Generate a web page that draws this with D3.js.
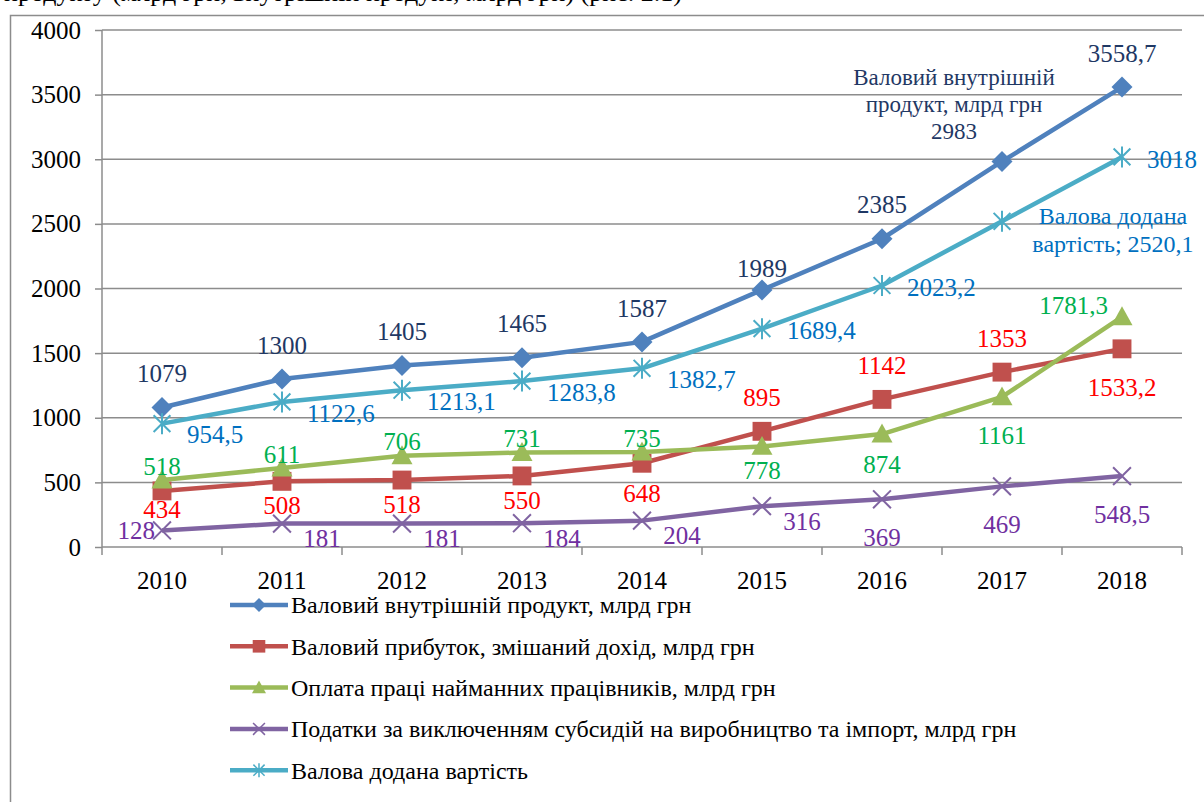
<!DOCTYPE html>
<html>
<head>
<meta charset="utf-8">
<script src="https://cdn.jsdelivr.net/npm/d3@7"></script>
<style>
  body { margin: 0; background: #fff; }
  svg, svg text { font-family: 'Liberation Serif', 'DejaVu Serif', serif; }
</style>
</head>
<body>
<div id="chart"></div>
<script>
// data (млрд грн)
const years = ['2010', '2011', '2012', '2013', '2014', '2015', '2016', '2017', '2018'];
const gdp = [1079, 1300, 1405, 1465, 1587, 1989, 2385, 2983, 3558.7];
const profit = [434, 508, 518, 550, 648, 895, 1142, 1353, 1533.2];
const wages = [518, 611, 706, 731, 735, 778, 874, 1161, 1781.3];
const taxes = [128, 181, 181, 184, 204, 316, 369, 469, 548.5];
const gva = [954.5, 1122.6, 1213.1, 1283.8, 1382.7, 1689.4, 2023.2, 2520.1, 3018];
const yTicks = [0, 500, 1000, 1500, 2000, 2500, 3000, 3500, 4000];
const seriesNames = [
  'Валовий внутрішній продукт, млрд грн',
  'Валовий прибуток, змішаний дохід, млрд грн',
  'Оплата праці найманних працівників, млрд грн',
  'Податки за виключенням субсидій на виробництво та імпорт, млрд грн',
  'Валова додана вартість'
];

const FONT = 'Liberation Serif, DejaVu Serif, serif';

// label placement per point (style only)
const series = [
  { values: gdp, line: '#4F81BD', text: '#1F3864', marker: 'diamond',
    pos: ['a', 'a', 'a', 'a', 'a', 'a2', 'a', 'gdpName', 'a'] },
  { values: profit, line: '#C0504D', text: '#FF0000', marker: 'square',
    pos: ['b1', 'bs', 'bs', 'bs', 'bm', 'a', 'a', 'a', 'b'] },
  { values: wages, line: '#9BBB59', text: '#00B050', marker: 'triangle',
    pos: ['c', 'c', 'c', 'c', 'c', 'bs', 'bm', 'b', 'la'] },
  { values: taxes, line: '#8064A2', text: '#7030A0', marker: 'x',
    pos: ['l', 'br', 'br', 'br', 'br', 'br', 'b', 'b', 'b'] },
  { values: gva, line: '#4BACC6', text: '#0070C0', marker: 'star',
    pos: ['rb', 'rb', 'rb', 'rb', 'rb', 'r', 'r', 'gvaName', 'r'] }
];

const place = {
  a: { dx: 0, dy: -34, anchor: 'middle' },
  a2: { dx: 0, dy: -22, anchor: 'middle' },
  b: { dx: 0, dy: 38, anchor: 'middle' },
  bm: { dx: 0, dy: 30, anchor: 'middle' },
  bs: { dx: 0, dy: 24, anchor: 'middle' },
  b1: { dx: 0, dy: 18, anchor: 'middle' },
  c: { dx: 0, dy: -14, anchor: 'middle' },
  r: { dx: 25, dy: 2, anchor: 'start' },
  rb: { dx: 25, dy: 11, anchor: 'start' },
  br: { dx: 40, dy: 15, anchor: 'middle' },
  l: { dx: -7, dy: 0, anchor: 'end' },
  la: { dx: -14, dy: -12, anchor: 'end' }
};

const width = 1204, height = 802;
const margin = { top: 30, left: 102, right: 22, bottom: 255 };

const svg = d3.select('#chart').append('svg')
  .attr('width', width)
  .attr('height', height)
  .attr('font-family', FONT);

// clipped caption line above the chart frame
svg.append('text')
  .attr('x', 4).attr('y', 1)
  .attr('font-size', 26)
  .text('продукту (млрд грн, внутрішній продукт, млрд грн) (рис. 2.1)');

// chart frame
svg.append('rect')
  .attr('x', 10.5).attr('y', 15.5)
  .attr('width', 1300).attr('height', 900)
  .attr('fill', '#fff')
  .attr('stroke', '#8c8c8c')
  .attr('stroke-width', 1.5);

const x = d3.scaleBand()
  .domain(years)
  .range([margin.left, width - margin.right])
  .paddingInner(0).paddingOuter(0);

const y = d3.scaleLinear()
  .domain([0, 4000])
  .range([height - margin.bottom, margin.top]);

const cx = d => x(d) + x.bandwidth() / 2;
const fmt = v => String(v).replace('.', ',');

// gridlines
svg.append('g')
  .selectAll('line')
  .data(yTicks.slice(1))
  .join('line')
  .attr('x1', margin.left).attr('x2', width - margin.right)
  .attr('y1', d => y(d)).attr('y2', d => y(d))
  .attr('stroke', '#8c8c8c')
  .attr('stroke-width', 1.5);

// y axis
const yAxis = svg.append('g')
  .attr('transform', `translate(${margin.left},0)`)
  .call(d3.axisLeft(y).tickValues(yTicks).tickSize(7).tickPadding(14).tickFormat(d => d));
yAxis.attr('font-family', FONT);
yAxis.selectAll('line, path').attr('stroke', '#8c8c8c').attr('stroke-width', 1.5);
yAxis.select('.domain').attr('d', `M0,${y(4000)}V${y(0)}`);
yAxis.selectAll('text').attr('font-size', 25).attr('fill', '#000');

// x axis
const xAxis = svg.append('g')
  .attr('transform', `translate(0,${y(0)})`)
  .call(d3.axisBottom(x).tickSize(0).tickPadding(24));
xAxis.attr('font-family', FONT);
xAxis.select('.domain').attr('stroke', '#8c8c8c').attr('stroke-width', 1.5)
  .attr('d', `M${x.range()[0]},0H${x.range()[1]}`);
xAxis.selectAll('text').attr('font-size', 25).attr('fill', '#000');
xAxis.append('g')
  .selectAll('line')
  .data(years.map(d => x(d)).concat([x.range()[1]]))
  .join('line')
  .attr('x1', d => d).attr('x2', d => d)
  .attr('y1', 0).attr('y2', 8)
  .attr('stroke', '#8c8c8c').attr('stroke-width', 1.5);

// marker shapes
function markerPath(type, r) {
  if (type === 'diamond') return `M0,${-r}L${r},0L0,${r}L${-r},0Z`;
  if (type === 'square') { const s = r * 0.9; return `M${-s},${-s}H${s}V${s}H${-s}Z`; }
  if (type === 'triangle') return `M0,${-r}L${r},${r * 0.8}L${-r},${r * 0.8}Z`;
  if (type === 'x') { const s = r * 0.85; return `M${-s},${-s}L${s},${s}M${-s},${s}L${s},${-s}`; }
  const s = r * 0.8;
  return `M${-s},${-s}L${s},${s}M${-s},${s}L${s},${-s}M0,${-r}V${r}`;
}
const filled = t => t === 'diamond' || t === 'square' || t === 'triangle';

const line = d3.line().x((d, i) => cx(years[i])).y(d => y(d));

series.forEach(s => {
  const g = svg.append('g');
  g.append('path')
    .attr('d', line(s.values))
    .attr('fill', 'none')
    .attr('stroke', s.line)
    .attr('stroke-width', 4.5)
    .attr('stroke-linejoin', 'round');
  g.selectAll('path.m')
    .data(s.values)
    .join('path')
    .attr('class', 'm')
    .attr('transform', (d, i) => `translate(${cx(years[i])},${y(d)})`)
    .attr('d', markerPath(s.marker, 10.5))
    .attr('fill', filled(s.marker) ? s.line : 'none')
    .attr('stroke', s.line)
    .attr('stroke-width', filled(s.marker) ? 0 : 2);
});

// data labels
series.forEach(s => {
  const g = svg.append('g').attr('fill', s.text).attr('font-size', 25);
  s.values.forEach((v, i) => {
    const px = cx(years[i]), py = y(v);
    const p = s.pos[i];
    if (p === 'gdpName') {
      const lines = ['Валовий внутрішній', 'продукт, млрд грн', fmt(v)];
      const t = g.append('text').attr('text-anchor', 'middle').attr('font-size', 23);
      lines.forEach((ln, k) => t.append('tspan')
        .attr('x', px - 48).attr('y', py - 84 + k * 27).attr('dy', '0.35em').text(ln));
      return;
    }
    if (p === 'gvaName') {
      const lines = ['Валова додана', 'вартість; ' + fmt(v)];
      const t = g.append('text').attr('text-anchor', 'middle').attr('font-size', 24);
      lines.forEach((ln, k) => t.append('tspan')
        .attr('x', px + 111).attr('y', py - 6 + k * 28).attr('dy', '0.35em').text(ln));
      return;
    }
    const o = place[p];
    g.append('text')
      .attr('x', px + o.dx).attr('y', py + o.dy).attr('dy', '0.35em')
      .attr('text-anchor', o.anchor)
      .text(fmt(v));
  });
});

// legend
const legend = svg.append('g').attr('transform', 'translate(230,605)');
series.forEach((s, i) => {
  const row = legend.append('g').attr('transform', `translate(0,${i * 41.3})`);
  row.append('line')
    .attr('x1', 0).attr('x2', 58)
    .attr('stroke', s.line).attr('stroke-width', 4.5);
  row.append('path')
    .attr('transform', 'translate(29,0)')
    .attr('d', markerPath(s.marker, 7))
    .attr('fill', filled(s.marker) ? s.line : 'none')
    .attr('stroke', s.line)
    .attr('stroke-width', filled(s.marker) ? 0 : 1.5);
  row.append('text')
    .attr('x', 61).attr('dy', '0.35em')
    .attr('font-size', 24)
    .attr('fill', '#000')
    .text(seriesNames[i]);
});
</script>
</body>
</html>
